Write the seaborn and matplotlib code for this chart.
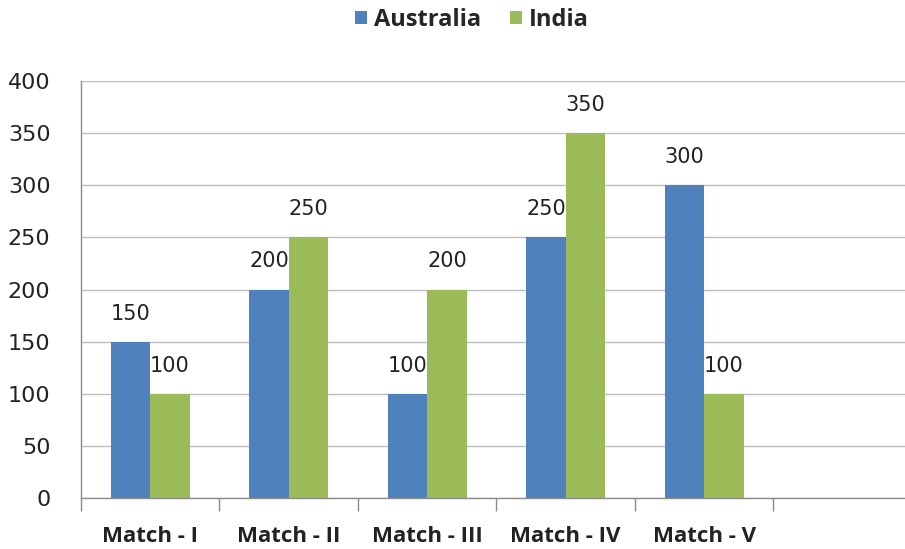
import matplotlib
matplotlib.use("Agg")
import matplotlib.pyplot as plt
from matplotlib.ticker import FixedLocator
import seaborn as sns
import pandas as pd

matches = ["Match - I", "Match - II", "Match - III", "Match - IV", "Match - V"]
australia = [150, 200, 100, 250, 300]
india = [100, 250, 200, 350, 100]
series = ["Australia", "India"]
colors = ["#4F81BD", "#9BBB59"]
y_ticks = [0, 50, 100, 150, 200, 250, 300, 350, 400]

df = pd.DataFrame({
    "match": matches * 2,
    "runs": australia + india,
    "team": [series[0]] * len(matches) + [series[1]] * len(matches),
})

sns.set_theme(style="white")
plt.rcParams["font.family"] = ["Open Sans", "DejaVu Sans"]
num_font = ["DejaVu Sans"]

fig = plt.figure(figsize=(9.05, 5.49), dpi=100)
ax = fig.add_axes([81 / 905, 1 - 498 / 549, 1 - 81 / 905, (498 - 81) / 549])

sns.barplot(data=df, x="match", y="runs", hue="team", order=matches,
            hue_order=series, palette=colors, width=0.57, saturation=1,
            linewidth=0, ax=ax, legend=True)

# value labels above each bar
for container in ax.containers:
    ax.bar_label(container, fmt="%d", padding=13, fontsize=15,
                 family=num_font, color="#222222")

ax.set_ylim(0, 400)
ax.set_xlim(-0.5, 5.45)
ax.set_yticks(y_ticks)
ax.set_yticklabels([str(v) for v in y_ticks], fontsize=16, family=num_font,
                   color="#222222")
ax.yaxis.grid(True, color="#bdbdbd", linewidth=1)
ax.set_axisbelow(True)
ax.tick_params(axis="y", length=9, color="#8c8c8c", width=1, pad=13)

# category labels at centres, tick marks between categories
ax.set_xticks(range(len(matches)))
ax.set_xticklabels(matches, fontsize=16, fontweight="bold", color="#222222")
ax.tick_params(axis="x", which="major", length=0, pad=20)
ax.xaxis.set_minor_locator(FixedLocator([i - 0.5 for i in range(len(matches) + 1)]))
ax.tick_params(axis="x", which="minor", length=9, color="#8c8c8c", width=1, bottom=True)

ax.set_xlabel("")
ax.set_ylabel("")
for side in ["top", "right"]:
    ax.spines[side].set_visible(False)
for side in ["left", "bottom"]:
    ax.spines[side].set_color("#8c8c8c")
    ax.spines[side].set_linewidth(1)

ax.legend(loc="center", bbox_to_anchor=(472 / 905, 1 - 20 / 549),
          bbox_transform=fig.transFigure, ncol=2, frameon=False,
          prop={"weight": "bold", "size": 17}, handlelength=0.5,
          handleheight=0.5, handletextpad=0.3, columnspacing=1.2)

fig.savefig("out.png", dpi=100)
